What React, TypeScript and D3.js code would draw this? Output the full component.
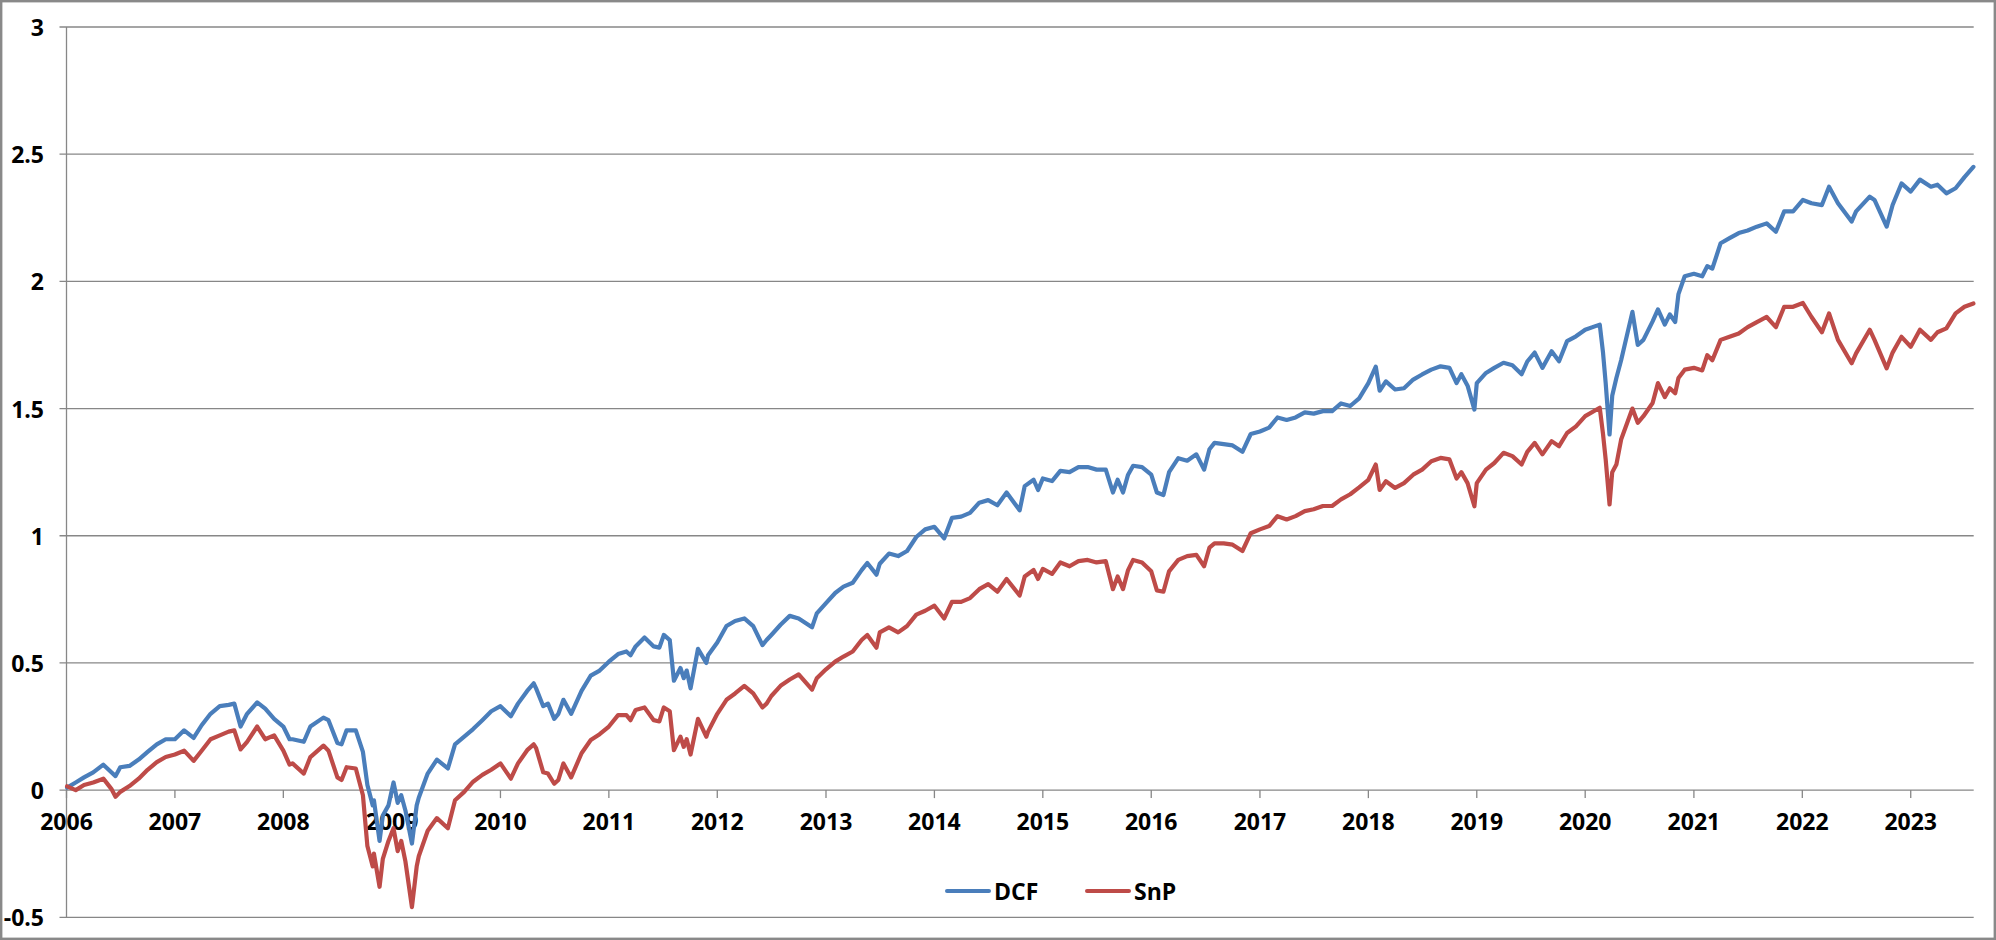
import * as d3 from "d3";

const dates = [
  // 2006
  "2006-01-03", "2006-02-01", "2006-03-01", "2006-04-01", "2006-05-05", "2006-06-01", "2006-06-15",
  "2006-07-01", "2006-08-01", "2006-09-01", "2006-10-01", "2006-11-01", "2006-12-01",
  // 2007
  "2007-01-01", "2007-02-01", "2007-03-05", "2007-04-01", "2007-05-01", "2007-06-01", "2007-07-01",
  "2007-07-20", "2007-08-10", "2007-09-01", "2007-10-05", "2007-11-01", "2007-12-01",
  // 2008
  "2008-01-01", "2008-01-22", "2008-02-01", "2008-03-10", "2008-04-01", "2008-05-15", "2008-06-01",
  "2008-07-01", "2008-07-15", "2008-08-01", "2008-09-01", "2008-09-25", "2008-10-10", "2008-10-28",
  "2008-11-01", "2008-11-20", "2008-12-01", "2008-12-20",
  // 2009
  "2009-01-06", "2009-01-20", "2009-02-01", "2009-02-15", "2009-03-09", "2009-03-25", "2009-04-01",
  "2009-05-01", "2009-06-01", "2009-07-08", "2009-08-01", "2009-09-01", "2009-10-01", "2009-11-01",
  "2009-12-01",
  // 2010
  "2010-01-01", "2010-02-05", "2010-03-01", "2010-04-01", "2010-04-23", "2010-05-01", "2010-05-25",
  "2010-06-10", "2010-07-01", "2010-07-15", "2010-08-01", "2010-08-27", "2010-10-01", "2010-11-01",
  "2010-12-01",
  // 2011
  "2011-01-01", "2011-02-01", "2011-03-01", "2011-03-15", "2011-04-01", "2011-05-01", "2011-06-01",
  "2011-06-20", "2011-07-05", "2011-07-25", "2011-08-08", "2011-08-30", "2011-09-10", "2011-09-20",
  "2011-10-03", "2011-10-28", "2011-11-25", "2011-12-01",
  // 2012
  "2012-01-01", "2012-02-01", "2012-03-01", "2012-04-01", "2012-05-01", "2012-06-01", "2012-06-15",
  "2012-07-01", "2012-08-01", "2012-09-01", "2012-10-01", "2012-11-15", "2012-12-01",
  // 2013
  "2013-01-01", "2013-02-01", "2013-03-01", "2013-04-01", "2013-05-01", "2013-05-20", "2013-06-20",
  "2013-07-01", "2013-08-01", "2013-09-01", "2013-10-01", "2013-11-01", "2013-12-01",
  // 2014
  "2014-01-01", "2014-02-03", "2014-03-01", "2014-04-01", "2014-05-01", "2014-06-01", "2014-07-01",
  "2014-08-01", "2014-09-01", "2014-10-15", "2014-11-01", "2014-12-01", "2014-12-16",
  // 2015
  "2015-01-01", "2015-02-01", "2015-03-01", "2015-04-01", "2015-05-01", "2015-06-01", "2015-07-01",
  "2015-08-01", "2015-08-25", "2015-09-10", "2015-09-28", "2015-10-15", "2015-11-01", "2015-12-01",
  // 2016
  "2016-01-01", "2016-01-20", "2016-02-11", "2016-03-01", "2016-04-01", "2016-05-01", "2016-06-01",
  "2016-06-27", "2016-07-15", "2016-08-01", "2016-09-01", "2016-10-01", "2016-11-03", "2016-12-01",
  // 2017
  "2017-01-01", "2017-02-01", "2017-03-01", "2017-04-01", "2017-05-01", "2017-06-01", "2017-07-01",
  "2017-08-01", "2017-09-01", "2017-10-01", "2017-11-01", "2017-12-01",
  // 2018
  "2018-01-01", "2018-01-26", "2018-02-08", "2018-03-01", "2018-04-01", "2018-05-01", "2018-06-01",
  "2018-07-01", "2018-08-01", "2018-09-01", "2018-10-01", "2018-10-25", "2018-11-10", "2018-12-01",
  "2018-12-24",
  // 2019
  "2019-01-01", "2019-02-01", "2019-03-01", "2019-04-01", "2019-05-01", "2019-06-01", "2019-06-20",
  "2019-07-15", "2019-08-10", "2019-09-10", "2019-10-05", "2019-11-01", "2019-12-01",
  // 2020
  "2020-01-01", "2020-02-19", "2020-03-01", "2020-03-10", "2020-03-23", "2020-04-01", "2020-04-15",
  "2020-05-01", "2020-06-08", "2020-06-26", "2020-07-15", "2020-08-15", "2020-09-02", "2020-09-25",
  "2020-10-12", "2020-10-30", "2020-11-10", "2020-12-01",
  // 2021
  "2021-01-01", "2021-01-29", "2021-02-15", "2021-03-04", "2021-04-01", "2021-05-01", "2021-06-01",
  "2021-07-01", "2021-08-01", "2021-09-03", "2021-10-04", "2021-11-01", "2021-12-01",
  // 2022
  "2022-01-03", "2022-02-01", "2022-03-08", "2022-04-01", "2022-05-01", "2022-06-16", "2022-07-01",
  "2022-08-16", "2022-09-01", "2022-10-12", "2022-11-01", "2022-12-01",
  // 2023
  "2023-01-01", "2023-02-01", "2023-03-10", "2023-04-01", "2023-05-01", "2023-06-01", "2023-07-01",
  "2023-07-31",
];

const dcf = [
  // 2006
  0.01, 0.03, 0.05, 0.07, 0.10, 0.07, 0.055, 0.09, 0.095, 0.12, 0.15, 0.18, 0.2,
  // 2007
  0.2, 0.235, 0.205, 0.255, 0.3, 0.33, 0.335, 0.34, 0.25, 0.3, 0.345, 0.32, 0.28,
  // 2008
  0.25, 0.2, 0.2, 0.19, 0.25, 0.285, 0.275, 0.185, 0.18, 0.235, 0.235, 0.15, 0.02, -0.06,
  -0.04, -0.2, -0.1, -0.06,
  // 2009
  0.03, -0.05, -0.02, -0.08, -0.21, -0.06, -0.03, 0.065, 0.12, 0.085, 0.18, 0.21, 0.24, 0.275, 0.31,
  // 2010
  0.33, 0.29, 0.34, 0.39, 0.42, 0.4, 0.33, 0.34, 0.28, 0.3, 0.355, 0.3, 0.39, 0.45, 0.47,
  // 2011
  0.505, 0.535, 0.545, 0.53, 0.565, 0.6, 0.565, 0.56, 0.61, 0.59, 0.43, 0.48, 0.44, 0.47, 0.4,
  0.555, 0.5, 0.53,
  // 2012
  0.58, 0.645, 0.665, 0.675, 0.645, 0.57, 0.59, 0.61, 0.65, 0.685, 0.675, 0.64, 0.695,
  // 2013
  0.735, 0.775, 0.8, 0.815, 0.865, 0.893, 0.847, 0.89, 0.93, 0.92, 0.94, 0.995, 1.025,
  // 2014
  1.035, 0.99, 1.07, 1.075, 1.09, 1.13, 1.14, 1.12, 1.17, 1.1, 1.195, 1.22, 1.18,
  // 2015
  1.225, 1.215, 1.255, 1.25, 1.27, 1.27, 1.26, 1.26, 1.17, 1.22, 1.17, 1.24, 1.275, 1.27,
  // 2016
  1.24, 1.17, 1.16, 1.25, 1.305, 1.295, 1.32, 1.26, 1.34, 1.365, 1.36, 1.355, 1.33, 1.4,
  // 2017
  1.41, 1.425, 1.465, 1.455, 1.465, 1.485, 1.48, 1.49, 1.49, 1.52, 1.51, 1.54,
  // 2018
  1.6, 1.665, 1.57, 1.607, 1.575, 1.58, 1.614, 1.634, 1.653, 1.666, 1.66, 1.6, 1.635, 1.59, 1.496,
  // 2019
  1.6, 1.64, 1.66, 1.68, 1.67, 1.635, 1.685, 1.72, 1.66, 1.725, 1.686, 1.765, 1.784,
  // 2020
  1.81, 1.83, 1.72, 1.6, 1.398, 1.55, 1.62, 1.69, 1.88, 1.75, 1.77, 1.843, 1.89, 1.83, 1.87, 1.84,
  1.95, 2.02,
  // 2021
  2.03, 2.02, 2.06, 2.05, 2.15, 2.17, 2.19, 2.2, 2.215, 2.228, 2.195, 2.275, 2.275,
  // 2022
  2.32, 2.307, 2.3, 2.372, 2.307, 2.235, 2.275, 2.333, 2.32, 2.215, 2.3, 2.385,
  // 2023
  2.353, 2.4, 2.372, 2.38, 2.346, 2.366, 2.41, 2.45,
];

const snp = [
  // 2006
  0.015, 0.0, 0.02, 0.03, 0.045, 0.005, -0.026, -0.007, 0.016, 0.045, 0.08, 0.11, 0.13,
  // 2007
  0.14, 0.155, 0.115, 0.155, 0.2, 0.215, 0.23, 0.235, 0.16, 0.19, 0.25, 0.2, 0.215,
  // 2008
  0.155, 0.1, 0.105, 0.065, 0.13, 0.175, 0.155, 0.05, 0.04, 0.09, 0.085, -0.02, -0.22, -0.3,
  -0.25, -0.38, -0.27, -0.2,
  // 2009
  -0.15, -0.24, -0.2, -0.28, -0.46, -0.3, -0.26, -0.16, -0.11, -0.15, -0.04, -0.007, 0.033, 0.06, 0.08,
  // 2010
  0.105, 0.045, 0.105, 0.157, 0.18, 0.165, 0.07, 0.065, 0.025, 0.04, 0.105, 0.05, 0.145, 0.197, 0.22,
  // 2011
  0.25, 0.295, 0.295, 0.275, 0.315, 0.325, 0.275, 0.27, 0.325, 0.31, 0.157, 0.21, 0.17, 0.2, 0.14,
  0.28, 0.21, 0.23,
  // 2012
  0.3, 0.355, 0.38, 0.41, 0.38, 0.325, 0.34, 0.37, 0.41, 0.435, 0.455, 0.395, 0.44,
  // 2013
  0.475, 0.505, 0.525, 0.545, 0.59, 0.61, 0.56, 0.62, 0.64, 0.62, 0.645, 0.69, 0.705,
  // 2014
  0.725, 0.675, 0.74, 0.74, 0.755, 0.79, 0.81, 0.78, 0.83, 0.765, 0.84, 0.865, 0.83,
  // 2015
  0.87, 0.85, 0.895, 0.88, 0.9, 0.905, 0.895, 0.9, 0.79, 0.84, 0.79, 0.865, 0.905, 0.895,
  // 2016
  0.86, 0.785, 0.78, 0.86, 0.905, 0.92, 0.925, 0.88, 0.953, 0.97, 0.97, 0.965, 0.94, 1.01,
  // 2017
  1.025, 1.038, 1.077, 1.064, 1.077, 1.097, 1.104, 1.117, 1.117, 1.143, 1.163, 1.19,
  // 2018
  1.22, 1.28, 1.18, 1.214, 1.188, 1.207, 1.24, 1.26, 1.293, 1.306, 1.3, 1.225, 1.25, 1.207, 1.116,
  // 2019
  1.207, 1.26, 1.286, 1.326, 1.313, 1.28, 1.33, 1.365, 1.32, 1.372, 1.352, 1.404, 1.43,
  // 2020
  1.47, 1.503, 1.4, 1.3, 1.123, 1.25, 1.28, 1.378, 1.5, 1.444, 1.47, 1.522, 1.6, 1.545, 1.58, 1.56,
  1.62, 1.653,
  // 2021
  1.66, 1.65, 1.71, 1.69, 1.77, 1.782, 1.795, 1.82, 1.84, 1.86, 1.82, 1.9, 1.9,
  // 2022
  1.915, 1.86, 1.8, 1.874, 1.77, 1.678, 1.717, 1.81, 1.77, 1.658, 1.72, 1.782,
  // 2023
  1.743, 1.81, 1.77, 1.8, 1.815, 1.874, 1.9, 1.913,
];

const yTicks = [-0.5, 0, 0.5, 1, 1.5, 2, 2.5, 3];
const years = d3.range(2006, 2024);

const seriesNames = ["DCF", "SnP"];
const seriesColors = ["#4a7ebb", "#be4b48"];

const W = 1996;
const H = 940;
const margin = { left: 66.5, right: 22.3, top: 27, bottom: 22.7 };
const font = "'Open Sans', 'Liberation Sans', sans-serif";

export default function App() {
  const parse = d3.timeParse("%Y-%m-%d");
  const times = dates.map((d) => parse(d) as Date);

  const x = d3
    .scaleTime()
    .domain([new Date(2006, 0, 1), new Date(2023, 7, 1)])
    .range([margin.left, W - margin.right]);
  const y = d3
    .scaleLinear()
    .domain([-0.5, 3])
    .range([H - margin.bottom, margin.top]);

  const line = d3
    .line<number>()
    .x((_, i) => x(times[i]))
    .y((d) => y(d))
    .curve(d3.curveLinear);

  const series = [dcf, snp];
  const x0 = margin.left;
  const x1 = W - margin.right;

  return (
    <svg
      width={W}
      height={H}
      style={{ position: "absolute", left: 0, top: 0, background: "#fff" }}
      fontFamily={font}
    >
      <rect x={1.2} y={1.2} width={W - 2.4} height={H - 2.4} fill="#fff" stroke="#898989" strokeWidth={2.4} />

      {/* horizontal gridlines with y-axis ticks */}
      {yTicks.map((t) => (
        <g key={t}>
          <line x1={x0 - 7} x2={x1} y1={y(t)} y2={y(t)} stroke="#878787" strokeWidth={1.3} />
          <text
            x={44}
            y={y(t)}
            textAnchor="end"
            dominantBaseline="central"
            fontSize={23}
            fontWeight={700}
            fill="#000"
          >
            {t}
          </text>
        </g>
      ))}

      {/* y axis */}
      <line x1={x0} x2={x0} y1={y(3)} y2={y(-0.5)} stroke="#878787" strokeWidth={1.3} />

      {/* x ticks and year labels on the zero line */}
      {years.map((yr) => {
        const px = x(new Date(yr, 0, 1));
        return (
          <g key={yr}>
            <line x1={px} x2={px} y1={y(0)} y2={y(0) + 8} stroke="#878787" strokeWidth={1.3} />
            <text x={px} y={830} textAnchor="middle" fontSize={23} fontWeight={700} fill="#000">
              {yr}
            </text>
          </g>
        );
      })}

      {/* series */}
      {series.map((s, i) => (
        <path
          key={seriesNames[i]}
          d={line(s) ?? ""}
          fill="none"
          stroke={seriesColors[i]}
          strokeWidth={4.2}
          strokeLinejoin="round"
          strokeLinecap="round"
        />
      ))}

      {/* legend */}
      {seriesNames.map((name, i) => {
        const lx = 947 + i * 140;
        return (
          <g key={name}>
            <line x1={lx} x2={lx + 42} y1={891} y2={891} stroke={seriesColors[i]} strokeWidth={4} strokeLinecap="round" />
            <text x={lx + 47} y={891} dominantBaseline="central" fontSize={23} fontWeight={700} fill="#000">
              {name}
            </text>
          </g>
        );
      })}
    </svg>
  );
}
